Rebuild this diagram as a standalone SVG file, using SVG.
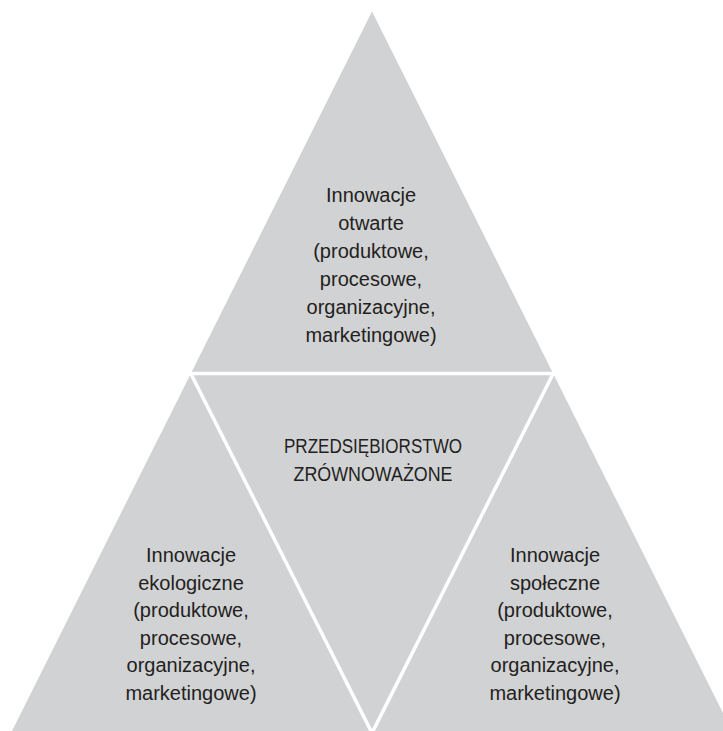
<svg xmlns="http://www.w3.org/2000/svg" width="723" height="731" viewBox="0 0 723 731">
<style>
.tri{fill:#d1d2d4;stroke:none}
.lbl{font-family:"Liberation Sans",Arial,sans-serif;font-size:20px;fill:#231f20;text-anchor:middle}
.div{stroke:#ffffff;stroke-width:3.5;fill:none;stroke-linejoin:miter}
</style>
<rect width="723" height="731" fill="#ffffff"/>
<g id="node-top">
<polygon class="tri" points="372,11.5 553.2,373.5 190.8,373.5"/>
<text class="lbl" x="371" y="202"><tspan x="371">Innowacje</tspan><tspan x="371" dy="28">otwarte</tspan><tspan x="371" dy="28">(produktowe,</tspan><tspan x="371" dy="28">procesowe,</tspan><tspan x="371" dy="28">organizacyjne,</tspan><tspan x="371" dy="28">marketingowe)</tspan></text>
</g>
<g id="node-center">
<polygon class="tri" points="190.8,373.5 553.2,373.5 372,731"/>
<text class="lbl" x="373" y="453" textLength="178" lengthAdjust="spacingAndGlyphs">PRZEDSIĘBIORSTWO</text>
<text class="lbl" x="373" y="481" textLength="159" lengthAdjust="spacingAndGlyphs">ZRÓWNOWAŻONE</text>
</g>
<g id="node-left">
<polygon class="tri" points="190.8,373.5 372,731 12,731"/>
<text class="lbl" x="191" y="562"><tspan x="191">Innowacje</tspan><tspan x="191" dy="27.6">ekologiczne</tspan><tspan x="191" dy="27.6">(produktowe,</tspan><tspan x="191" dy="27.6">procesowe,</tspan><tspan x="191" dy="27.6">organizacyjne,</tspan><tspan x="191" dy="27.6">marketingowe)</tspan></text>
</g>
<g id="node-right">
<polygon class="tri" points="553.2,373.5 732,731 372,731"/>
<text class="lbl" x="555" y="562"><tspan x="555">Innowacje</tspan><tspan x="555" dy="27.6">społeczne</tspan><tspan x="555" dy="27.6">(produktowe,</tspan><tspan x="555" dy="27.6">procesowe,</tspan><tspan x="555" dy="27.6">organizacyjne,</tspan><tspan x="555" dy="27.6">marketingowe)</tspan></text>
</g>
<g id="connectors">
<polyline class="div" points="187,373.5 557,373.5"/>
<line class="div" x1="190.8" y1="373.5" x2="372" y2="733"/>
<line class="div" x1="553.2" y1="373.5" x2="372" y2="733"/>
</g>
</svg>
